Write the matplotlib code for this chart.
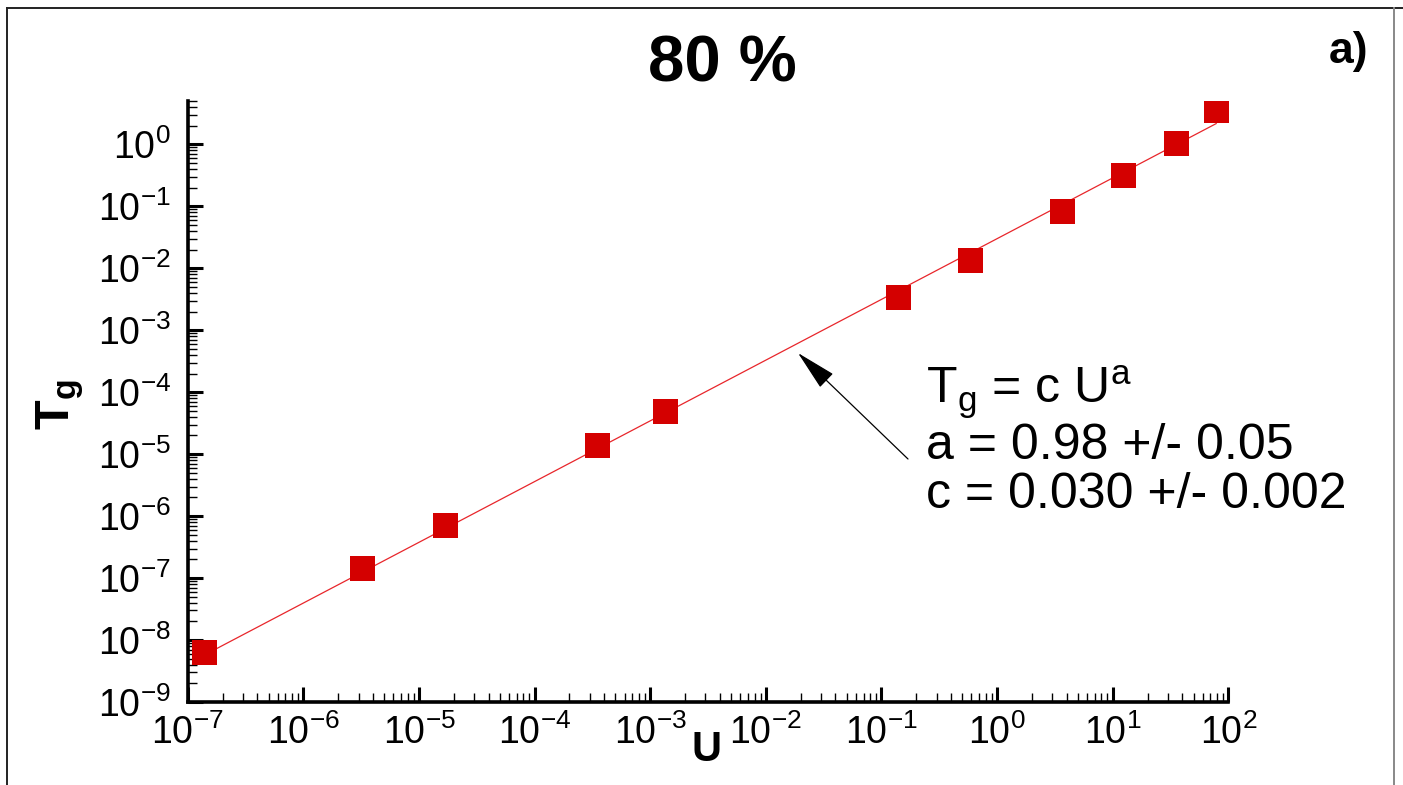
import numpy as np
import matplotlib
matplotlib.use('Agg')
import matplotlib.pyplot as plt
from matplotlib.lines import Line2D
from matplotlib.ticker import LogLocator, NullFormatter

plt.rcParams['font.family'] = ['Liberation Sans', 'DejaVu Sans']
plt.rcParams['mathtext.fontset'] = 'custom'
plt.rcParams['mathtext.rm'] = 'Liberation Sans'
plt.rcParams['mathtext.it'] = 'Liberation Sans:italic'
plt.rcParams['mathtext.bf'] = 'Liberation Sans:bold'
plt.rcParams['axes.unicode_minus'] = False

# measured points (U, Tg)
U = [1.38e-7, 3.22e-6, 1.68e-5, 3.48e-4, 1.35e-3, 0.139, 0.585, 3.66, 12.3, 35.4, 78.5]
Tg = [6.4e-9, 1.45e-7, 7.2e-7, 1.40e-5, 4.97e-5, 3.43e-3, 1.36e-2, 8.4e-2, 0.319, 1.05, 3.57]

# fit parameters from the annotation
fit_a = 0.98
fit_c = 0.030

fig = plt.figure(figsize=(14.03, 7.85), dpi=100)
ax = fig.add_axes([0.1338, 0.1057, 0.8755 - 0.1338, 0.8717 - 0.1057])

# fit line
u_fit = np.logspace(np.log10(U[0]), np.log10(U[-1]), 200)
ax.plot(u_fit, fit_c * u_fit ** fit_a, color='#e8262b', lw=0.9, zorder=2)
ax.plot(U, Tg, linestyle='none', marker='s', markersize=18, color='#d40000',
        markeredgewidth=0, zorder=3)

ax.set_xscale('log')
ax.set_yscale('log')
ax.set_xlim(1e-7, 1e2)
ax.set_ylim(1e-9, 5.05)

ax.xaxis.set_major_locator(LogLocator(base=10, numticks=20))
ax.yaxis.set_major_locator(LogLocator(base=10, numticks=20))
ax.xaxis.set_minor_locator(LogLocator(base=10, subs=np.arange(2, 10), numticks=20))
ax.yaxis.set_minor_locator(LogLocator(base=10, subs=np.arange(2, 10), numticks=20))
ax.xaxis.set_minor_formatter(NullFormatter())
ax.yaxis.set_minor_formatter(NullFormatter())

for s in ['top', 'right']:
    ax.spines[s].set_visible(False)
for s in ['left', 'bottom']:
    ax.spines[s].set_linewidth(2.6)

ax.tick_params(which='major', direction='in', length=11, width=2.2, labelsize=27)
ax.tick_params(which='minor', direction='in', length=6.5, width=1.0)
ax.tick_params(axis='x', which='major', pad=9)
ax.tick_params(axis='y', which='major', pad=12)

# axis labels
fig.text(707 / 1403, 1 - 750 / 785, 'U', fontsize=30, fontweight='bold',
         ha='center', va='center')
fig.text(60 / 1403, 1 - 405 / 785, r'$\mathbf{T}_\mathbf{g}$', fontsize=35,
         rotation=90, ha='center', va='center')

# title and panel tag
fig.text(722 / 1403, 1 - 65 / 785, '80 %', fontsize=47, fontweight='bold',
         ha='center', va='center')
fig.text(1349 / 1403, 1 - 52 / 785, 'a)', fontsize=32, fontweight='bold',
         ha='center', va='center')

# fit annotation
fit_text = (r'T$_\mathrm{g}$ = c U$^\mathrm{a}$' + '\n'
            + 'a = 0.98 +/- 0.05\n'
            + 'c = 0.030 +/- 0.002')
fig.text(926 / 1403, 1 - 508 / 785, fit_text, fontsize=36, linespacing=1.07,
         ha='left', va='baseline')

ax.annotate('', xy=(798, 785 - 353), xycoords='figure pixels',
            xytext=(908, 785 - 459), textcoords='figure pixels',
            arrowprops=dict(arrowstyle='-|>,head_length=1.3,head_width=0.3',
                            mutation_scale=20, color='black', lw=0.9,
                            shrinkA=0, shrinkB=0))

# outer frame (top, left, right)
fig.add_artist(Line2D([7 / 1403, 1], [1 - 8 / 785, 1 - 8 / 785],
                      transform=fig.transFigure, color='#222222', lw=1.4))
fig.add_artist(Line2D([7 / 1403, 7 / 1403], [0, 1 - 8 / 785],
                      transform=fig.transFigure, color='#222222', lw=1.4))
fig.add_artist(Line2D([1394 / 1403, 1394 / 1403], [0, 1 - 8 / 785],
                      transform=fig.transFigure, color='#888888', lw=1.4))

fig.savefig('out.png', dpi=100)
